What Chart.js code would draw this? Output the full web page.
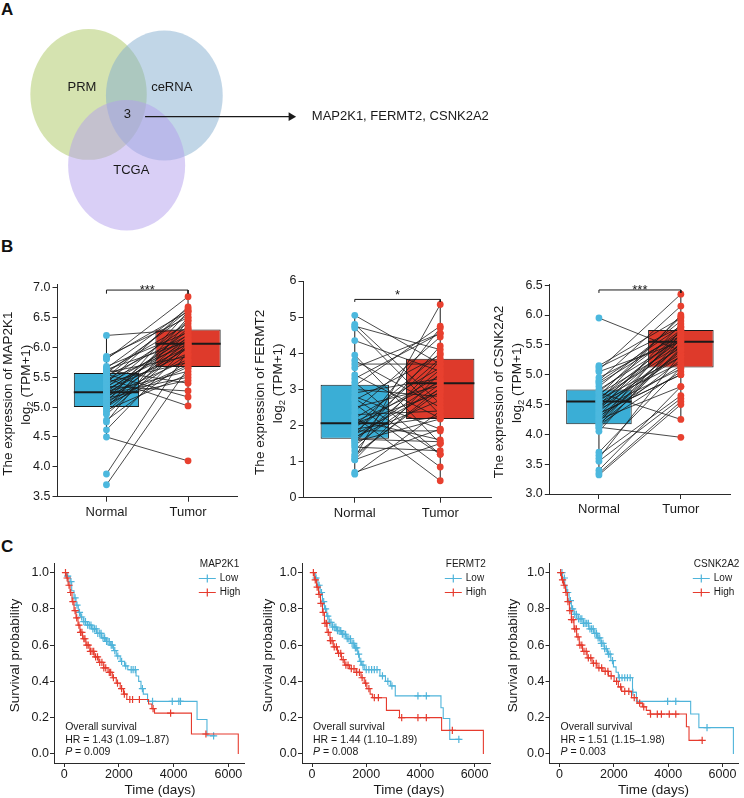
<!DOCTYPE html>
<html lang="en">
<head>
<meta charset="UTF-8">
<title>Hub genes: overlap, expression and survival</title>
<script src="https://cdn.jsdelivr.net/npm/chart.js"></script>
<style>
  body { margin: 0; background: #fff; }
  #fig { position: relative; width: 744px; height: 798px; overflow: hidden; font-family: 'Liberation Sans', Arial, sans-serif; }
  #fig canvas { position: absolute; }
  .tag { position: absolute; left: 1px; font-size: 17px; line-height: 17px; font-weight: bold; color: #111; }
</style>
</head>
<body>
<div id="fig">
  <div class="tag" style="top:1px">A</div>
  <div class="tag" style="top:238px">B</div>
  <div class="tag" style="top:538px">C</div>
</div>

<script>
// ---- data ----
const vennSets = ['PRM', 'ceRNA', 'TCGA'];
const vennShared = 3;
const hubGenes = ['MAP2K1', 'FERMT2', 'CSNK2A2'];

const groups = ['Normal', 'Tumor'];

// paired samples (normal[i] -> tumor[i]), log2(TPM+1)
const map2k1Normal = [6.20, 5.85, 5.82, 5.80, 5.68, 5.65, 5.63, 5.62, 5.60, 5.58, 5.57, 5.55, 5.52, 5.50, 5.48, 5.45, 5.45, 5.42, 5.40, 5.38, 5.35, 5.35, 5.32, 5.30, 5.28, 5.26, 5.25, 5.24, 5.22, 5.20, 5.18, 5.15, 5.15, 5.12, 5.10, 5.08, 5.05, 5.05, 5.02, 5.00, 4.98, 4.95, 4.92, 4.88, 4.78, 4.75, 4.62, 4.50, 3.88, 3.70];
const map2k1Tumor  = [6.30, 6.50, 6.60, 6.85, 6.25, 6.65, 6.10, 5.40, 6.40, 5.85, 6.55, 5.17, 6.20, 6.62, 5.02, 6.05, 6.35, 5.75, 6.68, 6.15, 5.27, 6.00, 6.45, 5.90, 6.12, 5.60, 6.28, 5.98, 5.50, 6.22, 5.80, 6.32, 5.45, 6.08, 5.70, 6.60, 6.18, 5.67, 6.02, 5.88, 6.50, 5.55, 6.14, 6.06, 5.78, 6.45, 6.03, 4.10, 5.95, 5.65];
const fermt2Normal = [5.05, 4.80, 4.75, 4.70, 4.35, 3.95, 3.80, 3.70, 3.60, 3.40, 3.20, 3.10, 3.00, 2.90, 2.80, 2.70, 2.60, 2.50, 2.40, 2.30, 2.20, 2.15, 2.10, 2.06, 2.00, 1.95, 1.90, 1.85, 1.80, 1.75, 1.70, 1.68, 1.65, 1.62, 1.58, 1.55, 1.50, 1.45, 1.40, 1.30, 1.20, 1.10, 1.05, 1.05, 0.70, 0.65, 2.25, 2.75, 3.30, 1.15];
const fermt2Tumor  = [3.70, 2.60, 4.10, 2.30, 3.50, 1.50, 2.50, 3.70, 4.55, 2.20, 1.20, 4.75, 2.80, 3.30, 1.90, 3.95, 0.85, 3.10, 4.45, 2.40, 3.60, 1.60, 3.20, 2.90, 4.00, 3.40, 2.25, 1.85, 3.85, 3.00, 4.70, 2.70, 3.25, 1.55, 3.55, 2.18, 4.20, 3.15, 1.30, 3.80, 2.95, 5.35, 1.90, 3.45, 1.50, 2.40, 0.47, 1.20, 4.55, 3.05];
const csnk2a2Normal = [5.95, 5.15, 5.12, 5.08, 5.05, 4.90, 4.85, 4.80, 4.75, 4.72, 4.70, 4.68, 4.65, 4.62, 4.60, 4.58, 4.56, 4.55, 4.53, 4.50, 4.48, 4.45, 4.42, 4.40, 4.38, 4.35, 4.32, 4.30, 4.28, 4.25, 4.22, 4.20, 4.18, 4.16, 4.15, 4.12, 4.10, 4.05, 3.70, 3.65, 3.60, 3.55, 3.40, 3.35, 3.32, 4.95, 4.88, 4.35, 4.45, 4.25];
const csnk2a2Tumor  = [5.40, 5.95, 5.80, 6.35, 5.55, 6.15, 5.70, 5.90, 5.60, 5.75, 4.25, 5.50, 5.97, 5.45, 5.65, 5.30, 6.00, 5.58, 5.20, 5.72, 5.35, 5.62, 5.10, 5.85, 5.48, 5.00, 5.68, 5.15, 5.52, 4.80, 5.40, 5.75, 5.25, 5.05, 5.60, 3.95, 5.45, 5.55, 5.12, 4.65, 5.35, 4.60, 4.80, 4.55, 4.50, 5.65, 5.80, 5.00, 5.30, 5.42];

// box summaries per group: [whisker low, Q1, median, Q3, whisker high]
const map2k1Box  = [[4.50, 5.00, 5.25, 5.57, 6.20], [5.02, 5.67, 6.06, 6.30, 6.85]];
const fermt2Box  = [[0.65, 1.63, 2.06, 3.13, 5.05], [0.47, 2.18, 3.17, 3.85, 5.35]];
const csnk2a2Box = [[3.32, 4.17, 4.55, 4.75, 5.15], [4.25, 5.12, 5.55, 5.75, 6.35]];

const map2k1Ticks  = ['3.5', '4.0', '4.5', '5.0', '5.5', '6.0', '6.5', '7.0'];
const fermt2Ticks  = ['0', '1', '2', '3', '4', '5', '6'];
const csnk2a2Ticks = ['3.0', '3.5', '4.0', '4.5', '5.0', '5.5', '6.0', '6.5'];
const significance = ['***', '*', '***'];

// Kaplan-Meier: event times (days) and survival after each step
const riskGroups = ['Low', 'High'];
const kmTimeTicks = [0, 2000, 4000, 6000];
const kmSurvTicks = ['0.0', '0.2', '0.4', '0.6', '0.8', '1.0'];

const map2k1LowT  = [0, 96, 217, 277, 361, 434, 518, 602, 700, 843, 1000, 1181, 1362, 1518, 1687, 1807, 1904, 2048, 2205, 2325, 2627, 2723, 2808, 2892, 3048, 4856, 5218, 5520];
const map2k1LowS  = [1, 0.98, 0.95, 0.90, 0.86, 0.82, 0.78, 0.755, 0.73, 0.71, 0.69, 0.665, 0.64, 0.62, 0.60, 0.57, 0.54, 0.51, 0.485, 0.465, 0.43, 0.40, 0.36, 0.33, 0.29, 0.19, 0.10, 0.10];
const map2k1HighT = [0, 72, 145, 217, 289, 361, 434, 506, 578, 675, 795, 940, 1097, 1265, 1446, 1603, 1759, 1904, 2048, 2169, 2290, 3085, 3205, 3302, 4651, 6362];
const map2k1HighS = [1, 0.97, 0.93, 0.89, 0.84, 0.79, 0.75, 0.71, 0.67, 0.635, 0.60, 0.565, 0.535, 0.505, 0.475, 0.45, 0.42, 0.39, 0.36, 0.33, 0.30, 0.275, 0.25, 0.225, 0.11, 0];
const map2k1LowCens  = [130, 250, 400, 470, 560, 640, 720, 780, 860, 920, 980, 1050, 1110, 1170, 1230, 1300, 1350, 1420, 1480, 1550, 1600, 1650, 1720, 1760, 1850, 1960, 2100, 2250, 2450, 2520, 2600, 2860, 3230, 3950, 4190, 4250, 5460];
const map2k1HighCens = [50, 110, 180, 240, 320, 400, 460, 540, 600, 650, 720, 760, 830, 880, 960, 1020, 1080, 1150, 1220, 1300, 1380, 1450, 1520, 1650, 1700, 1800, 1950, 2100, 2200, 2400, 2500, 2750, 3250, 3890, 5180];

const fermt2LowT  = [0, 120, 217, 301, 386, 458, 542, 627, 747, 904, 1085, 1265, 1422, 1567, 1687, 1747, 1832, 1928, 2506, 2711, 2892, 3073, 4760, 4844, 5085, 5483];
const fermt2LowS  = [1, 0.97, 0.93, 0.89, 0.84, 0.80, 0.76, 0.725, 0.70, 0.68, 0.66, 0.635, 0.61, 0.585, 0.55, 0.51, 0.49, 0.465, 0.43, 0.40, 0.375, 0.32, 0.255, 0.195, 0.08, 0.08];
const fermt2HighT = [0, 84, 169, 241, 313, 386, 458, 554, 663, 783, 940, 1085, 1205, 1386, 1627, 1808, 1928, 2024, 2145, 2229, 2747, 3229, 4784, 6326];
const fermt2HighS = [1, 0.96, 0.92, 0.88, 0.83, 0.78, 0.72, 0.67, 0.625, 0.59, 0.555, 0.52, 0.49, 0.47, 0.45, 0.42, 0.39, 0.36, 0.33, 0.31, 0.24, 0.20, 0.13, 0];
const fermt2LowCens  = [150, 260, 350, 430, 500, 580, 650, 700, 760, 820, 880, 940, 1000, 1060, 1120, 1180, 1240, 1300, 1360, 1420, 1480, 1540, 1600, 1650, 1720, 1800, 1880, 2000, 2100, 2200, 2300, 2400, 2600, 2800, 2950, 3910, 4220, 5420];
const fermt2HighCens = [50, 120, 190, 260, 330, 410, 480, 540, 600, 680, 740, 820, 900, 980, 1060, 1150, 1250, 1330, 1450, 1550, 1650, 1750, 1850, 1980, 2100, 2300, 2450, 3310, 3910, 4220, 5180];

const csnk2a2LowT  = [0, 109, 194, 266, 351, 436, 532, 678, 871, 1077, 1258, 1404, 1525, 1646, 1767, 1888, 1984, 2081, 2166, 2686, 2831, 4828, 5130, 6401];
const csnk2a2LowS  = [1, 0.97, 0.93, 0.89, 0.845, 0.80, 0.77, 0.745, 0.72, 0.69, 0.665, 0.64, 0.61, 0.58, 0.55, 0.515, 0.48, 0.45, 0.42, 0.34, 0.29, 0.22, 0.145, 0];
const csnk2a2HighT = [0, 73, 145, 218, 290, 363, 436, 532, 629, 726, 847, 1016, 1198, 1379, 1597, 1803, 2009, 2166, 2287, 2650, 2856, 3049, 3194, 3340, 4671, 4767, 5251];
const csnk2a2HighS = [1, 0.96, 0.93, 0.89, 0.84, 0.79, 0.74, 0.69, 0.645, 0.60, 0.565, 0.53, 0.50, 0.475, 0.455, 0.43, 0.40, 0.37, 0.345, 0.31, 0.28, 0.26, 0.24, 0.22, 0.15, 0.075, 0.075];
const csnk2a2LowCens  = [90, 180, 300, 400, 480, 560, 620, 700, 760, 820, 880, 940, 1000, 1060, 1120, 1180, 1240, 1300, 1360, 1420, 1480, 1540, 1600, 1660, 1720, 1800, 1860, 1950, 2200, 2300, 2400, 2500, 2600, 2700, 3980, 4280, 5430];
const csnk2a2HighCens = [40, 110, 170, 240, 310, 380, 440, 500, 560, 620, 680, 750, 820, 900, 980, 1060, 1150, 1250, 1350, 1450, 1550, 1680, 1780, 1900, 2100, 2250, 2400, 2550, 2750, 2950, 3100, 3350, 3600, 3750, 4040, 4280, 5251];

const map2k1Stats  = ['Overall survival', 'HR = 1.43 (1.09–1.87)', '0.009'];
const fermt2Stats  = ['Overall survival', 'HR = 1.44 (1.10–1.89)', '0.008'];
const csnk2a2Stats = ['Overall survival', 'HR = 1.51 (1.15–1.98)', '0.003'];

// ---- look ----
const FONT = "'Liberation Sans', Arial, sans-serif";
const INK = '#1a1a1a';
const AXIS = '#2a2a2a';
const BLUE_BOX = '#3aaed6', RED_BOX = '#de3a2b';
const BLUE_PT = '#4cb8de', RED_PT = '#e8402f';
const KM_BLUE = '#4fb4da', KM_RED = '#e63b2e';

Chart.defaults.font.family = FONT;
Chart.defaults.color = INK;

const fig = document.getElementById('fig');
function place(left, top, w, h) {
  const c = document.createElement('canvas');
  c.width = w; c.height = h;
  c.style.left = left + 'px'; c.style.top = top + 'px';
  c.style.width = w + 'px'; c.style.height = h + 'px';
  fig.appendChild(c);
  return c;
}

function axisLook(tickLen) {
  return {
    grid: { display: true, offset: false, drawOnChartArea: false, drawTicks: true, tickLength: tickLen, color: AXIS, lineWidth: 1 },
    border: { display: true, color: AXIS, width: 1 }
  };
}

// ---- A: venn ----
const vennShape = [
  { cx: 84.7, cy: 93.3, rx: 59, ry: 68.3, lx: 78, ly: 86 },
  { cx: 161.5, cy: 94.5, rx: 59.2, ry: 67.8, lx: 169, ly: 86 },
  { cx: 123.3, cy: 167.2, rx: 59.3, ry: 68.2, lx: 128, ly: 173 }
];
const vennFill = ['rgba(171,199,97,0.5)', 'rgba(131,173,207,0.5)', 'rgba(179,159,237,0.5)'];
const vennMid = { x: 124, y: 114.5 };
const arrow = { x0: 142, x1: 290, y: 116.5, textX: 311 };

const vennDraw = {
  id: 'vennDraw',
  beforeDatasetsDraw(chart) {
    const { ctx, scales: { x, y } } = chart;
    ctx.save();
    vennShape.forEach((g, i) => {
      const cx = x.getPixelForValue(g.cx), cy = y.getPixelForValue(g.cy);
      const rx = Math.abs(x.getPixelForValue(g.cx + g.rx) - cx);
      const ry = Math.abs(y.getPixelForValue(g.cy + g.ry) - cy);
      ctx.fillStyle = vennFill[i];
      ctx.beginPath();
      ctx.ellipse(cx, cy, rx, ry, 0, 0, Math.PI * 2);
      ctx.fill();
    });
    ctx.restore();
  },
  afterDraw(chart) {
    const { ctx, scales: { x, y } } = chart;
    ctx.save();
    ctx.fillStyle = INK;
    ctx.font = '13px ' + FONT;
    ctx.textBaseline = 'middle';
    ctx.textAlign = 'center';
    vennShape.forEach((g, i) => ctx.fillText(vennSets[i], x.getPixelForValue(g.lx), y.getPixelForValue(g.ly)));
    ctx.fillText(String(vennShared), x.getPixelForValue(vennMid.x), y.getPixelForValue(vennMid.y));
    ctx.textAlign = 'left';
    ctx.fillText(hubGenes.join(', '), x.getPixelForValue(arrow.textX), y.getPixelForValue(arrow.y));
    ctx.restore();
  }
};

new Chart(place(0, 0, 744, 240), {
  type: 'line',
  data: {
    datasets: [{
      data: [{ x: arrow.x0, y: arrow.y }, { x: arrow.x1, y: arrow.y }],
      borderColor: INK, borderWidth: 1.2,
      pointRadius: [0, 5], pointStyle: 'triangle', pointRotation: 90,
      pointBackgroundColor: INK, pointBorderColor: INK, pointBorderWidth: 0, clip: false
    }]
  },
  options: {
    responsive: false, animation: false, events: [],
    layout: { padding: 0 },
    plugins: { legend: { display: false }, tooltip: { enabled: false } },
    scales: {
      x: { type: 'linear', min: 0, max: 744, display: false },
      y: { type: 'linear', min: 0, max: 240, reverse: true, display: false }
    }
  },
  plugins: [vennDraw]
});

// ---- B: paired box plots ----
const boxParts = {
  id: 'boxParts',
  afterDatasetDraw(chart, args, o) {
    if (args.index !== 0) return;
    const { ctx, scales: { y } } = chart;
    ctx.save();
    ctx.strokeStyle = INK;
    o.box.forEach((s, i) => {
      const el = args.meta.data[i];
      const half = el.width / 2;
      ctx.lineWidth = 1;
      ctx.beginPath();
      ctx.moveTo(el.x, y.getPixelForValue(s[0])); ctx.lineTo(el.x, y.getPixelForValue(s[1]));
      ctx.moveTo(el.x, y.getPixelForValue(s[3])); ctx.lineTo(el.x, y.getPixelForValue(s[4]));
      ctx.stroke();
      ctx.lineWidth = 2;
      ctx.beginPath();
      ctx.moveTo(el.x - half, y.getPixelForValue(s[2]));
      ctx.lineTo(el.x + half, y.getPixelForValue(s[2]));
      ctx.stroke();
    });
    ctx.restore();
  },
  afterDraw(chart, args, o) {
    const { ctx, chartArea: a, scales: { x, y } } = chart;
    ctx.save();
    ctx.fillStyle = INK;
    ctx.font = '13px ' + FONT;
    ctx.textAlign = 'center';
    ctx.textBaseline = 'alphabetic';
    ctx.fillText(o.sig, (x.getPixelForValue(1) + x.getPixelForValue(2)) / 2, y.getPixelForValue(o.bracket) + o.starDy);

    // two-line y title with a real subscript
    const midY = (a.top + a.bottom) / 2;
    ctx.textBaseline = 'middle';
    ctx.save();
    ctx.translate(a.left + o.title1Dx, midY + 3);
    ctx.rotate(-Math.PI / 2);
    ctx.font = '13.5px ' + FONT;
    ctx.fillText('The expression of ' + o.gene, 0, 0);
    ctx.restore();

    ctx.save();
    ctx.translate(a.left + o.title2Dx, midY - 6);
    ctx.rotate(-Math.PI / 2);
    ctx.textAlign = 'left';
    ctx.font = '13.5px ' + FONT;
    const w1 = ctx.measureText('log').width;
    const w3 = ctx.measureText(' (TPM+1)').width;
    ctx.font = '9.5px ' + FONT;
    const w2 = ctx.measureText('2').width;
    const x0 = -(w1 + w2 + w3) / 2;
    ctx.font = '13.5px ' + FONT;
    ctx.fillText('log', x0, 0);
    ctx.font = '9.5px ' + FONT;
    ctx.fillText('2', x0 + w1, 4);
    ctx.font = '13.5px ' + FONT;
    ctx.fillText(' (TPM+1)', x0 + w1 + w2, 0);
    ctx.restore();
    ctx.restore();
  }
};

function boxPanel(p) {
  const pairLines = p.normal.map((n, i) => ({
    type: 'line', order: 2,
    data: [{ x: 1, y: n }, { x: 2, y: p.tumor[i] }],
    borderColor: INK, borderWidth: 0.8, pointRadius: 0
  }));
  const b = p.bracket;
  new Chart(place(p.left, p.top, p.width, p.height), {
    type: 'bar',
    data: {
      datasets: [
        {
          type: 'bar', order: 3,
          data: p.box.map((s, i) => ({ x: i + 1, y: [s[1], s[3]] })),
          backgroundColor: [BLUE_BOX, RED_BOX], borderColor: INK, borderWidth: 1,
          borderSkipped: false, barPercentage: 1, categoryPercentage: 0.8
        },
        ...pairLines,
        { type: 'line', order: 1, showLine: false, data: p.normal.map(v => ({ x: 1, y: v })),
          pointRadius: 3.4, pointBackgroundColor: BLUE_PT, pointBorderWidth: 0 },
        { type: 'line', order: 1, showLine: false, data: p.tumor.map(v => ({ x: 2, y: v })),
          pointRadius: 3.4, pointBackgroundColor: RED_PT, pointBorderWidth: 0 },
        { type: 'line', order: 0, clip: false,
          data: [{ x: 1, y: b - p.drop }, { x: 1, y: b }, { x: 2, y: b }, { x: 2, y: b - p.drop }],
          borderColor: INK, borderWidth: 1, pointRadius: 0 }
      ]
    },
    options: {
      responsive: false, animation: false, events: [],
      layout: { padding: { top: p.areaTop - p.top, right: p.left + p.width - p.areaRight, bottom: 0, left: 0 } },
      plugins: {
        legend: { display: false }, tooltip: { enabled: false },
        boxParts: { box: p.box, sig: p.sig, bracket: b, starDy: p.starDy, gene: p.gene, title1Dx: p.title1Dx, title2Dx: p.title2Dx }
      },
      scales: {
        x: {
          type: 'linear', min: 0.4, max: 2.6, offset: false,
          afterBuildTicks: s => { s.ticks = groups.map((g, i) => ({ value: i + 1 })); },
          afterFit: s => { s.height = p.top + p.height - p.areaBottom; },
          ticks: { callback: v => groups[v - 1], font: { size: 13 }, padding: 3, maxRotation: 0, autoSkip: false, color: INK },
          ...axisLook(5)
        },
        y: {
          type: 'linear', min: p.yMin, max: p.yMax,
          afterBuildTicks: s => { s.ticks = p.ticks.map(t => ({ value: parseFloat(t) })); },
          afterFit: s => { s.width = p.areaLeft - p.left; },
          ticks: { callback: (v, i) => p.ticks[i], font: { size: 12.5 }, padding: 2, autoSkip: false, color: INK },
          ...axisLook(5)
        }
      }
    },
    plugins: [boxParts]
  });
}

boxPanel({ gene: hubGenes[0], normal: map2k1Normal, tumor: map2k1Tumor, box: map2k1Box, ticks: map2k1Ticks,
  yMin: 3.5, yMax: 7.05, sig: significance[0], bracket: 6.96, drop: 0.06, starDy: 4,
  left: 0, top: 270, width: 245, height: 260, areaLeft: 57.5, areaRight: 237, areaTop: 284.7, areaBottom: 496.7,
  title1Dx: -49.5, title2Dx: -31 });
boxPanel({ gene: hubGenes[1], normal: fermt2Normal, tumor: fermt2Tumor, box: fermt2Box, ticks: fermt2Ticks,
  yMin: 0, yMax: 6, sig: significance[1], bracket: 5.49, drop: 0.07, starDy: 0,
  left: 251, top: 270, width: 245, height: 260, areaLeft: 303.5, areaRight: 491.5, areaTop: 281, areaBottom: 497.7,
  title1Dx: -43.5, title2Dx: -25.5 });
boxPanel({ gene: hubGenes[2], normal: csnk2a2Normal, tumor: csnk2a2Tumor, box: csnk2a2Box, ticks: csnk2a2Ticks,
  yMin: 3.0, yMax: 6.52, sig: significance[2], bracket: 6.42, drop: 0.05, starDy: 4,
  left: 490, top: 270, width: 254, height: 260, areaLeft: 549.8, areaRight: 730, areaTop: 284, areaBottom: 494,
  title1Dx: -50.3, title2Dx: -32.3 });

// ---- C: Kaplan-Meier ----
function survAt(ts, ss, t) {
  let s = ss[0];
  for (let i = 0; i < ts.length && ts[i] <= t; i++) s = ss[i];
  return s;
}

const statY = [0.150, 0.077, 0.012];

const kmText = {
  id: 'kmText',
  afterDraw(chart, args, o) {
    const { ctx, chartArea: a, scales: { x, y } } = chart;
    ctx.save();
    ctx.fillStyle = INK;
    ctx.textBaseline = 'middle';
    // axis titles
    ctx.font = '13.5px ' + FONT;
    ctx.textAlign = 'center';
    ctx.fillText('Time (days)', a.left + o.xTitleDx, a.bottom + 27);
    ctx.save();
    ctx.translate(a.left + o.yTitleDx, a.top + 92);
    ctx.rotate(-Math.PI / 2);
    ctx.fillText('Survival probability', 0, 0);
    ctx.restore();
    // legend
    const lx = a.right - 46;
    ctx.font = '10px ' + FONT;
    ctx.textAlign = 'left';
    ctx.fillText(o.gene, lx + 1, a.top + 1);
    [KM_BLUE, KM_RED].forEach((col, i) => {
      const ly = a.top + 15 + i * 14;
      ctx.strokeStyle = col;
      ctx.lineWidth = 1.2;
      ctx.beginPath();
      ctx.moveTo(lx, ly); ctx.lineTo(lx + 17, ly);
      ctx.moveTo(lx + 8.5, ly - 4); ctx.lineTo(lx + 8.5, ly + 4);
      ctx.stroke();
      ctx.fillText(riskGroups[i], lx + 21, ly);
    });
    // stats
    const sx = x.getPixelForValue(0) + 1;
    ctx.font = '10.5px ' + FONT;
    ctx.fillText(o.stats[0], sx, y.getPixelForValue(statY[0]));
    ctx.fillText(o.stats[1], sx, y.getPixelForValue(statY[1]));
    ctx.font = 'italic 10.5px ' + FONT;
    ctx.fillText('P', sx, y.getPixelForValue(statY[2]));
    const pw = ctx.measureText('P').width;
    ctx.font = '10.5px ' + FONT;
    ctx.fillText(' = ' + o.stats[2], sx + pw, y.getPixelForValue(statY[2]));
    ctx.restore();
  }
};

function kmPanel(p) {
  const curve = (ts, ss, col, order) => ({
    type: 'line', order, stepped: true,
    data: ts.map((t, i) => ({ x: t, y: ss[i] })),
    borderColor: col, borderWidth: 1.1, pointRadius: 0
  });
  const marks = (cens, ts, ss, col, order) => ({
    type: 'line', order, showLine: false,
    data: cens.map(t => ({ x: t, y: survAt(ts, ss, t) })),
    pointStyle: 'cross', pointRadius: 3.6, pointBorderWidth: 1.2, pointBorderColor: col, borderColor: col
  });
  new Chart(place(p.left, p.top, p.width, p.height), {
    type: 'line',
    data: {
      datasets: [
        curve(p.lowT, p.lowS, KM_BLUE, 4),
        marks(p.lowCens, p.lowT, p.lowS, KM_BLUE, 3),
        curve(p.highT, p.highS, KM_RED, 2),
        marks(p.highCens, p.highT, p.highS, KM_RED, 1)
      ]
    },
    options: {
      responsive: false, animation: false, events: [],
      layout: { padding: { top: p.areaTop - p.top, right: p.left + p.width - p.areaRight, bottom: 0, left: 0 } },
      plugins: {
        legend: { display: false }, tooltip: { enabled: false },
        kmText: { gene: p.gene, stats: p.stats, xTitleDx: p.xTitleDx, yTitleDx: p.yTitleDx }
      },
      scales: {
        x: {
          type: 'linear', min: -370, max: 6600,
          afterBuildTicks: s => { s.ticks = kmTimeTicks.map(v => ({ value: v })); },
          afterFit: s => { s.height = p.top + p.height - p.areaBottom; },
          ticks: { callback: v => String(v), font: { size: 12.5, lineHeight: 1 }, padding: 1, maxRotation: 0, autoSkip: false, color: INK },
          ...axisLook(4)
        },
        y: {
          type: 'linear', min: -0.05, max: 1.05,
          afterBuildTicks: s => { s.ticks = kmSurvTicks.map(t => ({ value: parseFloat(t) })); },
          afterFit: s => { s.width = p.areaLeft - p.left; },
          ticks: { callback: (v, i) => kmSurvTicks[i], font: { size: 12.5 }, padding: 1, autoSkip: false, color: INK },
          ...axisLook(4)
        }
      }
    },
    plugins: [kmText]
  });
}

kmPanel({ gene: hubGenes[0], stats: map2k1Stats,
  lowT: map2k1LowT, lowS: map2k1LowS, highT: map2k1HighT, highS: map2k1HighS,
  lowCens: map2k1LowCens, highCens: map2k1HighCens,
  left: 0, top: 555, width: 250, height: 243, areaLeft: 54, areaRight: 247.4, areaTop: 563, areaBottom: 763,
  xTitleDx: 106, yTitleDx: -39 });
kmPanel({ gene: hubGenes[1], stats: fermt2Stats,
  lowT: fermt2LowT, lowS: fermt2LowS, highT: fermt2HighT, highS: fermt2HighS,
  lowCens: fermt2LowCens, highCens: fermt2HighCens,
  left: 250, top: 555, width: 246, height: 243, areaLeft: 302, areaRight: 493.7, areaTop: 563, areaBottom: 763,
  xTitleDx: 107, yTitleDx: -34 });
kmPanel({ gene: hubGenes[2], stats: csnk2a2Stats,
  lowT: csnk2a2LowT, lowS: csnk2a2LowS, highT: csnk2a2HighT, highS: csnk2a2HighS,
  lowCens: csnk2a2LowCens, highCens: csnk2a2HighCens,
  left: 496, top: 555, width: 248, height: 243, areaLeft: 549.5, areaRight: 741.2, areaTop: 563, areaBottom: 763,
  xTitleDx: 104, yTitleDx: -36.5 });
</script>
</body>
</html>
